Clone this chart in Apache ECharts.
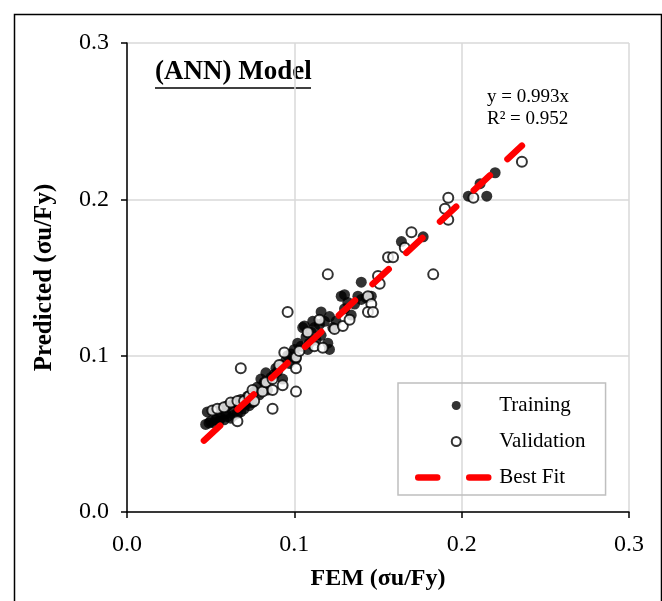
<!DOCTYPE html>
<html>
<head>
<meta charset="utf-8">
<script src="https://cdn.jsdelivr.net/npm/echarts@6/dist/echarts.min.js"></script>
<style>
  html, body { margin: 0; padding: 0; background: #fff; }
  #chart { width: 662px; height: 601px; }
</style>
</head>
<body>
<div id="chart"></div>
<script>
// Training points [FEM, Predicted]
const training = [
  [0.047,0.056],[0.049,0.057],[0.050,0.058],[0.052,0.057],[0.053,0.059],[0.055,0.058],
  [0.056,0.060],[0.058,0.059],[0.060,0.061],[0.062,0.060],[0.064,0.062],[0.066,0.063],
  [0.068,0.064],[0.070,0.066],[0.048,0.064],[0.052,0.065],[0.056,0.066],[0.060,0.068],
  [0.064,0.070],[0.068,0.072],[0.072,0.074],[0.073,0.068],[0.075,0.070],[0.076,0.077],
  [0.078,0.080],[0.080,0.085],[0.082,0.083],[0.084,0.078],[0.086,0.086],[0.088,0.088],
  [0.090,0.090],[0.092,0.094],[0.093,0.085],[0.095,0.097],[0.096,0.100],[0.098,0.101],
  [0.100,0.104],[0.101,0.098],[0.102,0.108],[0.104,0.106],[0.105,0.118],[0.106,0.119],
  [0.107,0.112],[0.108,0.104],[0.110,0.115],[0.112,0.118],[0.113,0.110],[0.115,0.120],
  [0.116,0.128],[0.116,0.113],[0.118,0.122],[0.120,0.108],[0.121,0.104],[0.121,0.125],
  [0.123,0.118],[0.125,0.122],[0.128,0.138],[0.130,0.139],[0.130,0.130],[0.132,0.134],
  [0.134,0.126],[0.136,0.133],[0.138,0.138],[0.140,0.147],[0.140,0.136],[0.143,0.137],
  [0.146,0.138],[0.164,0.173],[0.177,0.176],[0.204,0.202],[0.211,0.210],[0.215,0.202],
  [0.220,0.217],[0.054,0.061],[0.059,0.063],[0.063,0.065],[0.067,0.067],[0.071,0.069],
  [0.079,0.075],[0.083,0.089],[0.089,0.092],[0.097,0.095],[0.109,0.108],[0.111,0.122]
];
// Validation points [FEM, Predicted]
const validation = [
  [0.051,0.065],[0.054,0.066],[0.058,0.067],[0.062,0.070],[0.066,0.071],[0.066,0.058],
  [0.068,0.092],[0.070,0.071],[0.073,0.074],[0.075,0.078],[0.076,0.071],[0.081,0.077],
  [0.083,0.083],[0.087,0.078],[0.087,0.066],[0.087,0.085],[0.091,0.094],[0.093,0.081],
  [0.094,0.102],[0.096,0.128],[0.101,0.099],[0.101,0.092],[0.101,0.077],[0.103,0.103],
  [0.108,0.115],[0.112,0.106],[0.115,0.123],[0.117,0.105],[0.120,0.152],[0.124,0.117],
  [0.129,0.119],[0.133,0.123],[0.144,0.138],[0.146,0.133],[0.144,0.128],[0.147,0.128],
  [0.150,0.151],[0.151,0.146],[0.156,0.163],[0.159,0.163],[0.166,0.169],[0.170,0.179],
  [0.183,0.152],[0.190,0.194],[0.192,0.201],[0.192,0.187],[0.207,0.201],[0.236,0.224]
];
// Best fit y = 0.993x over the data range
const fitSlope = 0.993;
const fitRange = [0.046, 0.236];
const fitLine = fitRange.map(x => [x, fitSlope * x]);

const serif = '"Liberation Serif", "Times New Roman", serif';

let myChart = echarts.init(document.getElementById('chart'));
let option = {
  backgroundColor: '#fff',
  animation: false,
  textStyle: { fontFamily: serif },
  grid: { left: 127, right: 33, top: 43, bottom: 89 },
  xAxis: {
    type: 'value', min: 0, max: 0.3, interval: 0.1,
    name: 'FEM (σu/Fy)', nameLocation: 'middle', nameGap: 55,
    nameTextStyle: { fontFamily: serif, fontWeight: 'bold', fontSize: 24, color: '#000' },
    axisLine: { lineStyle: { color: '#000', width: 1.5 } },
    axisTick: { show: true, length: 6, lineStyle: { color: '#000', width: 1.5 } },
    axisLabel: { color: '#000', fontSize: 24, fontFamily: serif, margin: 21,
      formatter: v => v.toFixed(1) },
    splitLine: { show: true, lineStyle: { color: '#d9d9d9', width: 1.5 } }
  },
  yAxis: {
    type: 'value', min: 0, max: 0.3, interval: 0.1,
    name: 'Predicted (σu/Fy)', nameLocation: 'middle', nameGap: 70,
    nameTextStyle: { fontFamily: serif, fontWeight: 'bold', fontSize: 25, color: '#000' },
    axisLine: { show: true, lineStyle: { color: '#000', width: 1.5 } },
    axisTick: { show: true, length: 6, lineStyle: { color: '#000', width: 1.5 } },
    axisLabel: { color: '#000', fontSize: 24, fontFamily: serif, margin: 18,
      formatter: v => v.toFixed(1) },
    splitLine: { show: true, lineStyle: { color: '#d9d9d9', width: 1.5 } }
  },
  legend: {
    orient: 'vertical', left: 398, top: 383,
    padding: [12, 20, 7, 17],
    borderColor: '#bfbfbf', borderWidth: 1.5,
    itemWidth: 76, itemHeight: 9, itemGap: 15,
    textStyle: { fontFamily: serif, fontSize: 21, color: '#000' },
    data: ['Training', 'Validation', {
      name: 'Best Fit',
      itemStyle: { opacity: 0 },
      lineStyle: { color: '#ff0000', width: 6.5, type: [19, 32], cap: 'round' }
    }]
  },
  series: [
    {
      name: 'Training', type: 'scatter', data: training,
      symbol: 'circle', symbolSize: 11,
      itemStyle: { color: '#000' }
    },
    {
      name: 'Validation', type: 'scatter', data: validation,
      symbol: 'circle', symbolSize: 10,
      itemStyle: { color: '#fff', borderColor: '#000', borderWidth: 2 }
    },
    {
      name: 'Best Fit', type: 'line', data: fitLine,
      symbol: 'none', z: 5,
      itemStyle: { color: '#ff0000' },
      lineStyle: { color: '#ff0000', width: 6.5, type: [22, 24], cap: 'round' }
    }
  ],
  graphic: [
    { type: 'rect', left: 12, top: 12, z: 100,
      shape: { width: 647, height: 620 },
      style: { fill: 'none', stroke: '#000', lineWidth: 1.5 } },
    { type: 'text', left: 155, top: 59,
      style: { text: '(ANN) Model', font: 'bold 27px ' + serif, fill: '#000' } },
    { type: 'line', shape: { x1: 155, y1: 88, x2: 311, y2: 88 },
      style: { stroke: '#000', lineWidth: 1.5 } },
    { type: 'text', left: 487, top: 88,
      style: { text: 'y = 0.993x', font: '19px ' + serif, fill: '#000' } },
    { type: 'text', left: 487, top: 110,
      style: { text: 'R² = 0.952', font: '19px ' + serif, fill: '#000' } }
  ]
};
myChart.setOption(option);
</script>
</body>
</html>
